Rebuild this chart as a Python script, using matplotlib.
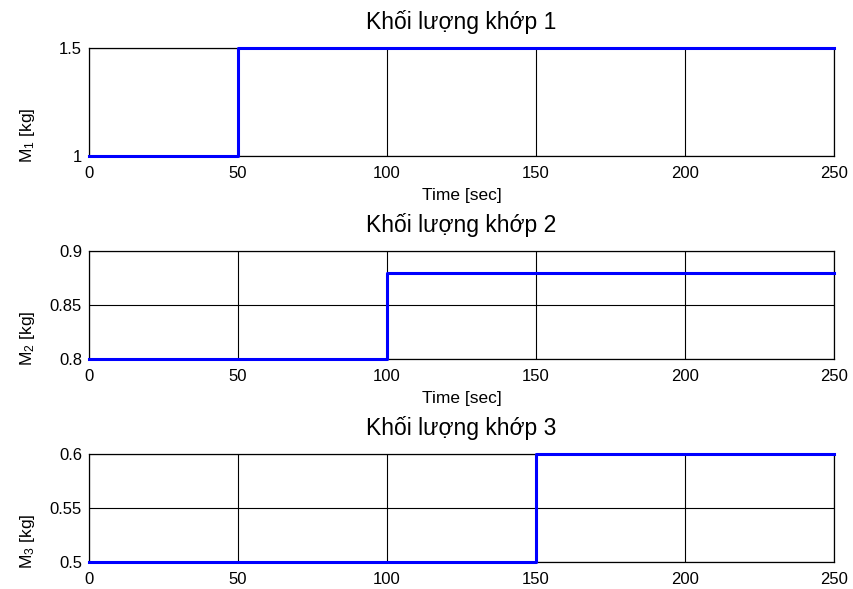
import numpy as np
import matplotlib
matplotlib.use('Agg')
from matplotlib import pyplot as plt

plt.rcParams['font.family'] = ['Liberation Sans', 'DejaVu Sans']
plt.rcParams['mathtext.default'] = 'regular'

# thoi gian va khoi luong tung khop (dang bac thang)
t1 = [0, 50, 50, 250]
m1 = [1.0, 1.0, 1.5, 1.5]
t2 = [0, 100, 100, 250]
m2 = [0.8, 0.8, 0.88, 0.88]
t3 = [0, 150, 150, 250]
m3 = [0.5, 0.5, 0.6, 0.6]

titles = ['Khối lượng khớp 1', 'Khối lượng khớp 2', 'Khối lượng khớp 3']
ylabels = ['M$_1$ [kg]', 'M$_2$ [kg]', 'M$_3$ [kg]']
yticks = [[1, 1.5], [0.8, 0.85, 0.9], [0.5, 0.55, 0.6]]
yticklabels = [['1', '1.5'], ['0.8', '0.85', '0.9'], ['0.5', '0.55', '0.6']]
xticks = [0, 50, 100, 150, 200, 250]

fig = plt.figure(figsize=(8.54, 5.89), dpi=100)

# vi tri cac truc (theo pixel cua anh goc)
bottoms = [0.7351, 0.3905, 0.0458]
data = [(t1, m1), (t2, m2), (t3, m3)]

for i in range(3):
    ax = fig.add_axes([0.1042, bottoms[i], 0.8724, 0.1834])
    t, m = data[i]
    ax.plot(t, m, color='#0000ff', linewidth=2.2, zorder=3, clip_on=False)
    ax.set_xlim(0, 250)
    ax.set_ylim(yticks[i][0], yticks[i][-1])
    ax.set_xticks(xticks)
    ax.set_yticks(yticks[i])
    ax.set_yticklabels(yticklabels[i])
    ax.grid(True, color='black', linewidth=0.8, linestyle='-')
    ax.tick_params(length=0, labelsize=12)
    ax.tick_params(axis='x', pad=7)
    ax.tick_params(axis='y', pad=5)
    for s in ax.spines.values():
        s.set_linewidth(0.9)
    # tieu de dat theo baseline
    ax.text(0.5, 1.18, titles[i], transform=ax.transAxes, ha='center',
            va='baseline', fontsize=16.5)
    ax.set_ylabel(ylabels[i], fontsize=12.5)
    ax.yaxis.set_label_coords(-0.07, 0.19)
    if i < 2:
        ax.set_xlabel('Time [sec]', fontsize=12.5)
        ax.xaxis.label.set_va('baseline')
        ax.xaxis.set_label_coords(0.5, -0.41)

plt.savefig('out.png', dpi=100)
